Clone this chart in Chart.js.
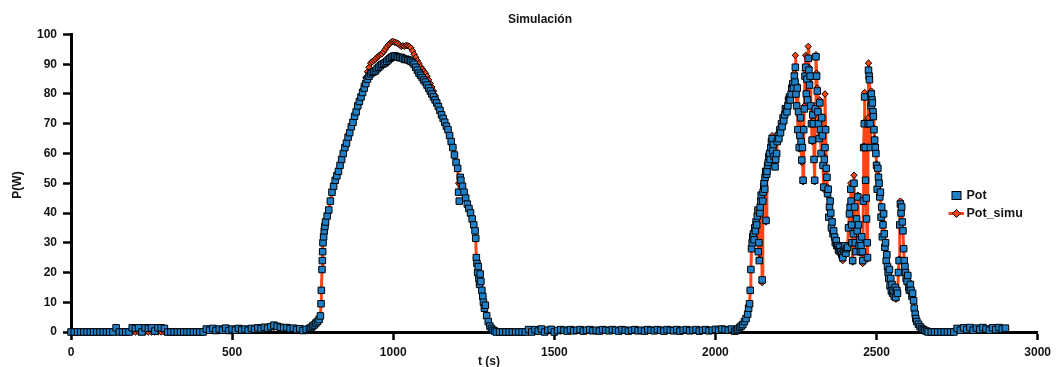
<!DOCTYPE html>
<html><head><meta charset="utf-8">
<script src="https://cdn.jsdelivr.net/npm/chart.js@4.4.1/dist/chart.umd.min.js"></script>
<style>html,body{margin:0;padding:0;background:#fff;overflow:hidden}canvas{display:block}</style>
</head><body>
<canvas id="c" width="1056" height="367"></canvas>
<script>
const chartTitle = 'Simulación';
const xAxisTitle = 't (s)';
const yAxisTitle = 'P(W)';
const seriesNames = ['Pot', 'Pot_simu'];
const xTicks = [0, 500, 1000, 1500, 2000, 2500, 3000];
const yTicks = [0, 10, 20, 30, 40, 50, 60, 70, 80, 90, 100];

const timeS = [
  // night 1
  0,10,20,30,40,50,60,70,80,90,100,110,120,130,140,150,160,170,180,190,
  200,210,220,230,240,250,260,270,280,290,300,310,320,330,340,350,360,370,380,390,
  400,410,420,430,440,450,460,470,480,490,500,510,520,530,540,550,560,570,580,590,
  600,610,620,630,640,650,660,670,680,690,700,710,720,730,
  // day 1
  740,745,750,755,760,765,770,774,776,777,779,780,781,782,784,786,788,790,795,800,
  805,810,815,820,825,830,835,840,845,850,
  855,860,865,870,875,880,885,890,895,900,
  905,910,915,920,925,930,935,940,945,950,
  955,960,965,970,975,980,985,990,995,1000,
  1005,1010,1015,1020,1025,1030,1035,1040,1045,1050,
  1055,1060,1065,1070,1075,1080,1085,1090,1095,1100,
  1105,1110,1115,1120,1125,1130,1135,1140,1145,1150,
  1155,1160,1165,1170,1175,1180,1185,1190,1195,1200,
  1203,1205,1208,1210,1215,1220,1225,1230,1235,1240,
  1245,1250,1254,1256,1258,1260,1262,1264,1266,1268,
  1270,1272,1275,1278,1280,1283,1286,1290,1295,1300,
  1305,1310,1315,1320,
  // night 2
  1330,1340,1350,1360,1370,1380,1390,1400,1410,1420,
  1430,1440,1450,1460,1470,1480,1490,1500,1510,1520,
  1530,1540,1550,1560,1570,1580,1590,1600,1610,1620,
  1630,1640,1650,1660,1670,1680,1690,1700,1710,1720,
  1730,1740,1750,1760,1770,1780,1790,1800,1810,1820,
  1830,1840,1850,1860,1870,1880,1890,1900,1910,1920,
  1930,1940,1950,1960,1970,1980,1990,2000,2010,2020,
  2030,2040,2050,
  // day 2
  2060,2065,2070,2075,2080,2085,2090,2095,2100,2103,
  2106,2108,2110,2112,2114,2116,2118,2120,2122,2124,
  2126,2128,2130,2132,2133,2135,2136,2138,2139,2141,
  2142,2145,2147,2148,2150,2151,2153,2154,2156,2157,
  2159,2160,2162,2164,2166,2168,2170,2172,2174,2176,
  2178,2180,2182,2185,2187,2190,2192,2195,2197,2200,
  2202,2205,2207,2210,2212,2215,2217,2220,2222,2225,
  2227,2230,2232,2235,2237,2240,2242,2245,2247,2248,
  2250,2252,2254,2256,2258,2260,2262,2264,2266,2268,
  2270,2272,2274,2276,2278,2280,2282,2284,2286,2288,
  2290,2292,2294,2296,2298,2300,2302,2304,2306,2308,
  2310,2312,2314,2316,2318,2320,2322,2324,2326,2328,
  2330,2332,2334,2336,2338,2340,2342,2344,2346,2348,
  2350,2352,2354,2356,2358,2360,2362,2365,2367,2370,
  2372,2375,2377,2380,2382,2385,2387,2390,2392,2395,
  2397,2400,2402,2405,2407,2410,2413,2416,2418,2420,
  2421,2423,2424,2426,2428,2430,2432,2434,2436,2438,
  2440,2442,2444,2446,2448,2450,2452,2454,2456,2457,
  2459,2460,2462,2463,2465,2466,2468,2469,2471,2472,
  2474,2475,2477,2478,2480,2481,2483,2484,2486,2487,
  2489,2490,2492,2494,2496,2498,2500,2502,2504,2506,
  2508,2510,2512,2514,2516,2518,2520,2522,2524,2526,
  2528,2530,2532,2534,2536,2538,2540,2542,2544,2546,
  2548,2550,2552,2555,2558,2560,2563,2565,2568,2570,
  2572,2574,2576,2578,2580,2582,2584,2586,2588,2590,
  2592,2595,2597,2600,2602,2605,2607,2610,2612,2615,
  2617,2620,2622,2625,2630,2635,2640,2645,2650,2655,
  2660,
  // night 3
  2670,2680,2690,2700,2710,2720,2730,2740,2750,2760,
  2770,2780,2790,2800,2810,2820,2830,2840,2850,2860,
  2870,2880,2890,2900
];

const pot = [
  0,0,0,0,0,0,0,0,0,0, 0,0,0,0,1.4,0,0,0,0,1.4,
  1.2,1.4,0,1.4,1.2,1.4,0.3,1.4,1.4,1.2, 0,0,0,0,0,0,0,0,0,0,
  0,0,1,0.6,1.2,0.5,1,0.6,1.3,0.5, 1,0.6,1.2,0.7,1,0.6,1.2,0.9,1.4,1.1,
  1.6,1.3,1.8,2.3,1.9,1.6,1.4,1.5,1.1,1.3, 0.8,1.1,0.5,0.9,
  1.2,1.5,2,2.4,3,3.5,4.2,5.4,9.5,14,21,24,27,30,32,34,35.5,37,39,41,
  44,47,49,51,52.5,54,56,58,60,62,
  63.5,65.5,67,69,70.5,72.5,74,76,77.5,79,
  80.5,82,83.5,85,86,86.8,87.3,87.5,87.8,88.5,
  89,89.5,90,90.2,90.5,91,91.5,92,92.4,92.7,
  92.8,92.6,92.4,92.2,92.3,92,91.6,91.7,91.5,91.3,
  91,90.6,90,89,88,87,86.3,85.5,84.7,84,
  83,82,81,80,79,78,77,75.8,74.5,73,
  71.8,70.5,69.2,68,66,64,62,59.5,57,55,
  47,44,52,51,49,47,45,43,41.5,40,
  38,36,34,31.5,25,23,20,22,18,16,
  19.5,17,14,12,10,8,9,5.5,3.5,2,
  1.2,0.6,0.3,0,
  0,0,0,0,0,0,0,0,0,0.8,
  0,0.8,0.3,1,0,0.6,0.9,0,0.5,0.8,
  0.6,0.3,0.8,0.4,0.6,0.8,0.3,0.6,0.8,0.4,
  0.6,0.3,0.8,0.6,0.4,0.8,0.6,0.3,0.8,0.6,
  0.3,0.6,0.8,0.4,0.6,0.3,0.8,0.6,0.4,0.8,
  0.6,0.3,0.8,0.6,0.4,0.8,0.3,0.6,0.8,0.4,
  0.6,0.8,0.3,0.6,0.8,0.4,0.6,0.9,0.6,1,
  0.8,0.6,1,
  0.3,0.5,1,1.5,2,2.5,3.5,4.5,6,8,
  9.5,14,21,28,30,32,33,31,35,34,
  37,36,39,41,27,30,24,40,42,44,
  46,17.5,44,47,49,50,48,52,54,37.5,
  53,54,56,57,59,60,58,62,64,65,
  61,63,59,55.5,58,60,64,66,65,68,
  67,70,69,72,71,73,75,75,74,76,
  78,79,78,80,82,83.5,82,86,84,89,
  80,76,82,68,74,62,66,72,64,57.8,
  62,51,68,75,86,89,80,85,78,92,
  88,83,86,76,70,64.5,73,70,58,51,
  75,92.5,86,81,74,70,65,77,68,60,
  72,66,56,48.7,58,62,68,55,52,46.5,
  48,38.6,42,44,40,35,37,33,34,31.9,
  30,30.7,29,29,27.5,28.5,27,27,26,25,
  27.5,27,29,26.5,28,28.5,35,39.7,42,48,
  44,36,30,24,33,50,42,30,27,38,
  34,45.4,36,29,31,27,29,32,27,24,
  44,62,70,79,62,51,45,38,30,25,
  70,88,86,84.8,70,62,76,80,78,77,
  74,72.4,68,64.5,62,60,56,48,55,52,
  50,45.4,47,38.6,42,32,36,39.7,33,28.5,
  30,24,26,22,20,18,21,15.5,18,13.8,
  16,13,14,12,15,11.6,14,13,20,24,
  36,43,40,42,37,34,28,24,22,20,
  18,17,19,15,14,16,14,12,13,10.5,
  8,6,4.5,3.5,2.6,1.8,1.2,0.8,0.5,0.3,
  0,
  0,0,0,0,0,0,0,0,1.2,0.6,
  1.4,0.8,1.5,0.6,1.3,0.8,1.5,1,0.6,1.4,
  0.8,1.5,1,1.3
];

const potSimu = [
  0,0,0,0,0,0,0,0,0,0, 0,0,0,0,0,0,0,0,0,0,
  0,0,0,0,0,0,0,0,0,0, 0,0,0,0,0,0,0,0,0,0,
  0,0,0.5,0.5,0.6,0.6,0.6,0.7,0.7,0.7, 0.8,0.8,0.8,0.8,0.9,0.9,0.9,1,1,1.1,
  1.2,1.3,1.4,1.6,1.6,1.5,1.4,1.3,1.2,1.1, 1,1,0.9,1,
  1.2,1.5,2,2.4,3,3.5,4.2,5.4,9.5,14,21,24,27,30,32,34,35.5,37,39,41,
  44,47,49,51,52.5,54,56,58,60,62,
  63.5,65.5,67,69,70.5,72.5,74,76,77.5,79.5,
  81.5,83.5,85.5,87.5,89,90.4,90.8,91.3,91.8,92.3,
  92.8,93.2,93.5,94.2,95,95.8,96.5,97,97.5,97.7,
  97.4,97.2,97,96.5,96,96.2,96,96.3,96.2,96,
  95.5,94.5,93.3,92.3,91.2,90.2,89.2,88.4,87.7,87,
  86,84.8,83.5,82.3,81,79.5,78,76.5,74.8,73.5,
  72,70.5,69.2,68,66,64,62,59.5,57,55,
  50,47,52,51,49,47,45,43,41.5,40,
  38,36,34,31.5,25,23,20,22,18,16,
  19.5,17,14,12,10,8,9,5.5,3.5,2,
  1.2,0.6,0.3,0,
  0,0,0,0,0,0,0,0,0,0,
  0.3,0.3,0.3,0.3,0.3,0.3,0.3,0.3,0.3,0.3,
  0.4,0.4,0.4,0.4,0.4,0.4,0.4,0.4,0.4,0.4,
  0.4,0.4,0.4,0.4,0.4,0.4,0.4,0.4,0.4,0.4,
  0.4,0.4,0.4,0.4,0.4,0.4,0.4,0.4,0.4,0.4,
  0.4,0.4,0.4,0.4,0.4,0.4,0.4,0.4,0.4,0.4,
  0.4,0.4,0.5,0.5,0.5,0.5,0.5,0.6,0.6,0.6,
  0.6,0.6,0.7,
  0.3,0.5,0.9,1.4,2,2.6,3.4,4.6,6,8,
  9.5,14,21,28,30.5,31.5,33,31.5,35.5,34,
  37,36.5,39.5,41,27,30,24.5,40,42,44.5,
  46.5,16.6,44,47,49.5,50.5,48,52,54.5,37,
  53,54.5,56,57,59.5,60.5,58,62.5,64.5,66,
  61,63.5,59.5,56,58,60,64.5,66.5,65,68.5,
  67.5,70,69.5,72.5,71,73.5,75,75.5,74.5,77,
  78.5,79.5,78,81,82.5,84,82.5,87,84.5,93,
  80.5,76,83,67.5,74.5,61.5,66,72.5,64,57,
  62.5,50.5,68.5,76,88,93,80.5,86,79,96,
  89,84,86.5,76,70.5,64,73.5,71,58,50.5,
  76,93.2,87,82,74.5,70.5,65.5,78,68.5,60,
  72.5,67,56,48,59,80,68.5,55,52,46,
  48.5,38.5,42,44.5,40,35,37.5,33,34,32,
  30,30.5,29,29,27.5,28,27,26.5,26,24,
  27.5,27,29,26,28,28.5,35.5,40,42.5,50,
  44,36,30,23.5,33,52.7,42,30,27,38,
  34,46,36,28.5,31,26.5,29,32,27,23,
  44.5,62.5,70.5,80.5,62,51,45,38,30,24.5,
  72,90.4,87,85.5,70.5,62,76.5,81,78.5,77.5,
  74,73,68.5,65,62.5,60.5,56.5,48,55.5,52.5,
  50,45.5,47,38.5,42,32,36,40.5,33,28,
  30,23.5,26,21.5,20,17.5,21,15,18,13.5,
  16,13,14,11.5,15,11,14,13,20,24.5,
  36,44,40,42.5,37,34,28,24,22,20,
  18,16.5,19,15,14,16.5,14,12,13,10.5,
  8,6,4.5,3.5,2.5,1.8,1.2,0.8,0.5,0.3,
  0,
  0,0,0,0,0,0,0,0.3,0.6,0.6,
  0.7,0.7,0.8,0.8,0.8,0.8,0.9,0.9,0.9,0.9,
  0.9,0.9,0.9,0.9
];

const BLUE = '#1f80c8';
const RED = '#ff4514';
const TEXT = '#141414';
const FONT = '"Liberation Sans", Arial, sans-serif';

function toPoints(xs, ys) {
  const n = Math.min(xs.length, ys.length);
  const out = [];
  for (let i = 0; i < n; i++) out.push({ x: xs[i], y: ys[i] });
  return out;
}

const overlay = {
  id: 'overlay',
  afterDraw(chart) {
    const ctx = chart.ctx;
    ctx.save();
    ctx.fillStyle = TEXT;
    ctx.font = 'bold 12px ' + FONT;
    ctx.textAlign = 'center';
    ctx.textBaseline = 'middle';
    ctx.fillText(chartTitle, 540, 20);
    ctx.fillText(xAxisTitle, 489, 362);
    ctx.save();
    ctx.translate(18, 185);
    ctx.rotate(-Math.PI / 2);
    ctx.fillText(yAxisTitle, 0, 0);
    ctx.restore();

    const ds = chart.data.datasets;
    ctx.font = 'bold 12.5px ' + FONT;
    ctx.textAlign = 'left';
    ctx.fillStyle = ds[0].pointBackgroundColor;
    ctx.strokeStyle = '#000';
    ctx.lineWidth = 1;
    ctx.fillRect(952, 191.5, 9, 8);
    ctx.strokeRect(952, 191.5, 9, 8);
    ctx.fillStyle = TEXT;
    ctx.fillText(ds[0].label, 966.5, 195.5);
    ctx.strokeStyle = ds[1].borderColor;
    ctx.lineWidth = 3;
    ctx.beginPath();
    ctx.moveTo(948.5, 213.5);
    ctx.lineTo(964, 213.5);
    ctx.stroke();
    ctx.fillStyle = ds[1].pointBackgroundColor;
    ctx.strokeStyle = '#000';
    ctx.lineWidth = 1;
    ctx.beginPath();
    ctx.moveTo(956.5, 209.5);
    ctx.lineTo(960.5, 213.5);
    ctx.lineTo(956.5, 217.5);
    ctx.lineTo(952.5, 213.5);
    ctx.closePath();
    ctx.fill();
    ctx.stroke();
    ctx.fillStyle = TEXT;
    ctx.fillText(ds[1].label, 966.5, 213.5);
    ctx.restore();
  }
};

new Chart(document.getElementById('c'), {
  type: 'line',
  data: {
    datasets: [
      {
        label: seriesNames[0],
        data: toPoints(timeS, pot),
        showLine: false,
        pointStyle: 'rect',
        pointRadius: 4.6,
        pointBackgroundColor: BLUE,
        pointBorderColor: '#000',
        pointBorderWidth: 1,
        clip: false
      },
      {
        label: seriesNames[1],
        data: toPoints(timeS, potSimu),
        showLine: true,
        borderColor: RED,
        borderWidth: 3,
        borderJoinStyle: 'round',
        tension: 0,
        pointStyle: 'rectRot',
        pointRadius: 3.2,
        pointBackgroundColor: RED,
        pointBorderColor: '#000',
        pointBorderWidth: 1,
        clip: false
      }
    ]
  },
  options: {
    responsive: false,
    animation: false,
    devicePixelRatio: 1,
    layout: { padding: { left: 0, right: 17, top: 34.5, bottom: 0 } },
    plugins: {
      legend: { display: false },
      title: { display: false },
      tooltip: { enabled: false }
    },
    scales: {
      x: {
        type: 'linear',
        min: xTicks[0],
        max: xTicks[xTicks.length - 1],
        afterBuildTicks: s => { s.ticks = xTicks.map(v => ({ value: v })); },
        afterFit: s => { s.height = 35; },
        grid: { drawOnChartArea: false, drawTicks: true, tickLength: 8, tickWidth: 2.5, tickColor: '#000' },
        border: { display: true, color: '#000', width: 3 },
        ticks: { padding: 5, color: TEXT, font: { family: FONT, size: 12, weight: 'bold' }, maxRotation: 0, callback: v => String(v) }
      },
      y: {
        type: 'linear',
        min: yTicks[0],
        max: yTicks[yTicks.length - 1],
        afterBuildTicks: s => { s.ticks = yTicks.map(v => ({ value: v })); },
        afterFit: s => { s.width = 71; },
        grid: { drawOnChartArea: false, drawTicks: true, tickLength: 8, tickWidth: 2.5, tickColor: '#000' },
        border: { display: true, color: '#000', width: 3 },
        ticks: { padding: 6, color: TEXT, font: { family: FONT, size: 12, weight: 'bold' }, callback: v => String(v) }
      }
    }
  },
  plugins: [overlay]
});
</script>
</body></html>
